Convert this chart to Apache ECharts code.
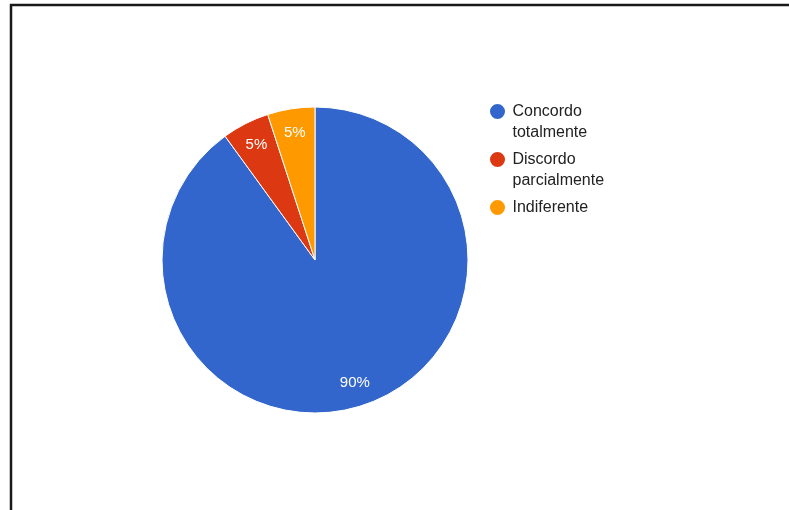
<!DOCTYPE html>
<html>
<head>
<meta charset="utf-8">
<script src="https://cdn.jsdelivr.net/npm/echarts@6/dist/echarts.min.js"></script>
<style>
html,body{margin:0;padding:0;background:#fff;}
#chart{width:789px;height:510px;}
</style>
</head>
<body>
<div id="chart"></div>
<script>
const categories = ['Concordo totalmente', 'Discordo parcialmente', 'Indiferente'];
const legendLines = [['Concordo', 'totalmente'], ['Discordo', 'parcialmente'], ['Indiferente']];
const values = [90, 5, 5];
const colors = ['#3366cc', '#dc3912', '#ff9900'];

const chart = echarts.init(document.getElementById('chart'));
const fontFam = 'Liberation Sans, Arial, sans-serif';
const center = [315, 260];
const R = 153;

const pieData = categories.map((c, i) => ({ name: c, value: values[i], itemStyle: { color: colors[i] } }));
const labelData = categories.map((c, i) => ({ name: c, value: values[i] }));

// Build legend text so that the first line sits level with the icon (three lines per item)
function legendText(name) {
  const lines = legendLines[categories.indexOf(name)].slice();
  while (lines.length < 2) lines.push(' ');
  return ' \n' + lines.join('\n');
}

chart.setOption({
  backgroundColor: '#ffffff',
  animation: false,
  color: colors,
  legend: {
    orient: 'vertical',
    left: 488,
    top: 80,
    padding: 0,
    itemWidth: 20,
    itemHeight: 17,
    itemGap: -15,
    icon: 'circle',
    selectedMode: false,
    data: categories,
    formatter: legendText,
    textStyle: { fontFamily: fontFam, fontSize: 16, color: '#222222', lineHeight: 21 }
  },
  graphic: [
    { type: 'line', shape: { x1: 10, y1: 5, x2: 789, y2: 5 }, style: { stroke: '#1a1a1a', lineWidth: 2.5 } },
    { type: 'line', shape: { x1: 11, y1: 4, x2: 11, y2: 510 }, style: { stroke: '#1a1a1a', lineWidth: 2.5 } }
  ],
  series: [
    {
      type: 'pie',
      center: center,
      radius: [0, R],
      startAngle: 90,
      clockwise: true,
      silent: true,
      label: { show: false },
      labelLine: { show: false },
      itemStyle: { borderColor: '#ffffff', borderWidth: 1 },
      data: pieData
    },
    {
      type: 'pie',
      center: center,
      radius: [R - 54, R],
      startAngle: 90,
      clockwise: true,
      silent: true,
      legendHoverLink: false,
      itemStyle: { color: 'rgba(0,0,0,0)' },
      label: {
        show: true,
        position: 'inside',
        formatter: '{d}%',
        fontFamily: fontFam,
        fontSize: 15,
        color: '#ffffff'
      },
      labelLine: { show: false },
      emphasis: { disabled: true },
      data: labelData
    }
  ]
});
</script>
</body>
</html>
